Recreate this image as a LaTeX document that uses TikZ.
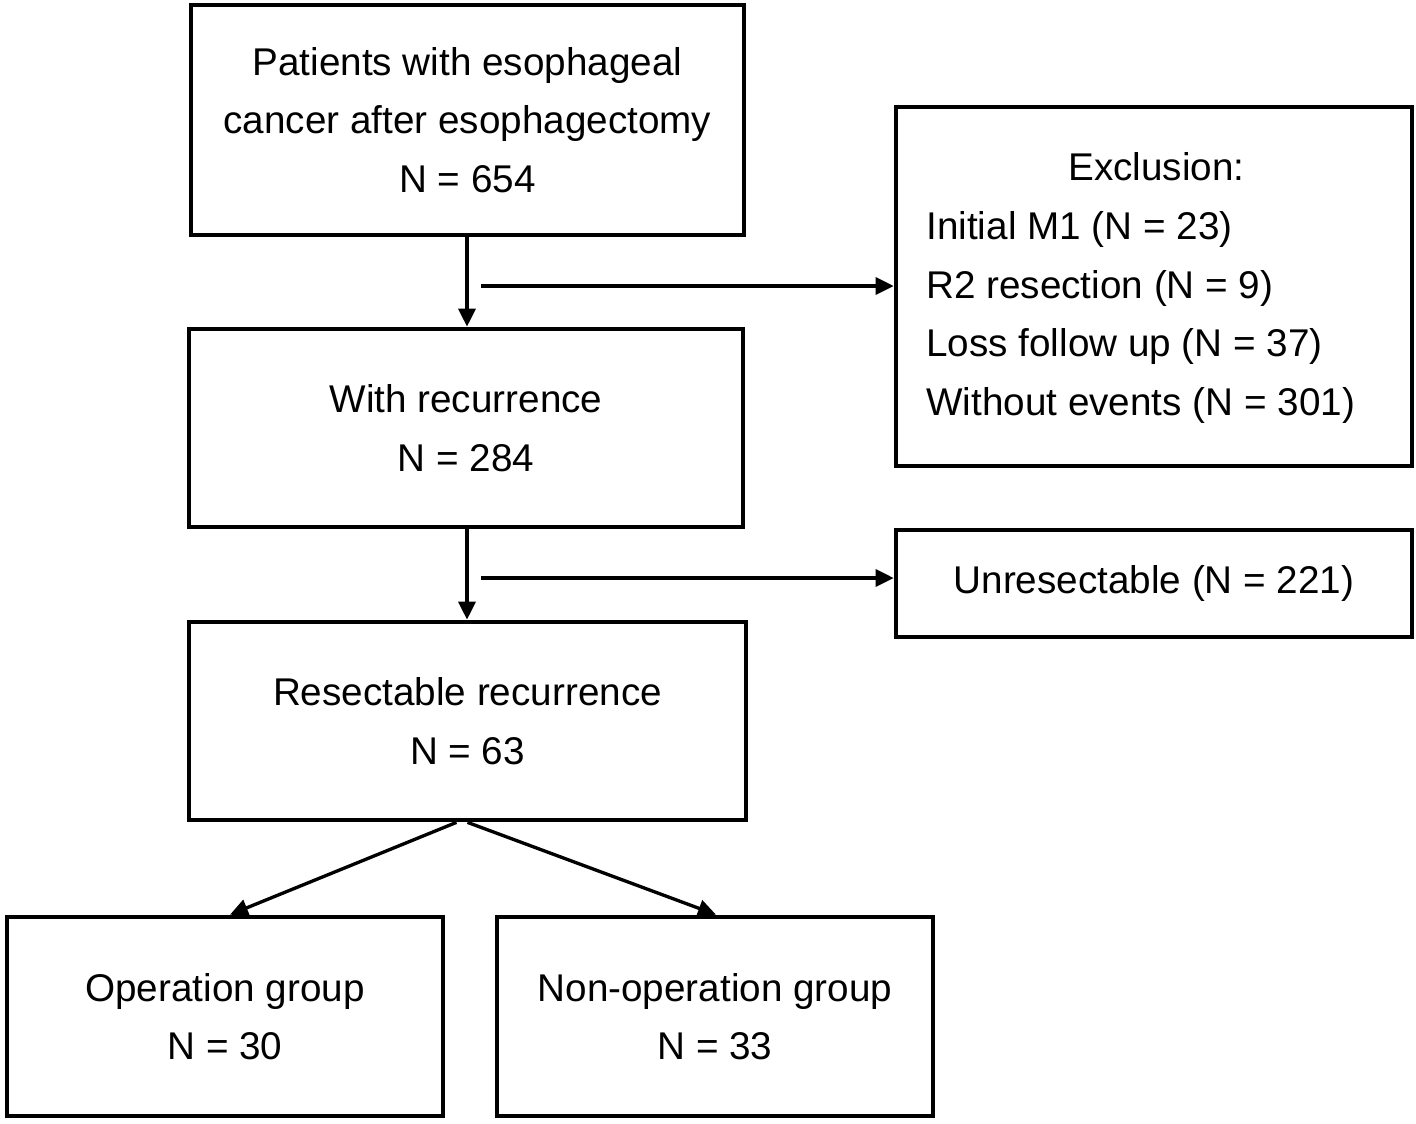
\documentclass[tikz,border=0pt]{standalone}
\usepackage{fontspec}
\setmainfont{Liberation Sans}
\usetikzlibrary{arrows.meta}
\begin{document}
\begin{tikzpicture}[x=0.02cm,y=-0.02cm,
  box/.style={draw=black, line width=2.7pt, align=center, inner sep=0pt,
    font=\fontsize{22pt}{33.3pt}\selectfont},
  txt/.style={align=left, inner sep=0pt, font=\fontsize{22pt}{33.3pt}\selectfont},
  arr/.style={line width=1.9pt, -{Triangle[length=0.36cm,width=0.34cm]}}]
\useasboundingbox (0,0) rectangle (1416,1123);
\node[box, minimum width=11.06cm, minimum height=4.6cm] (b1) at (467.5,120) {Patients with esophageal\\cancer after esophagectomy\\N = 654};
\node[box, minimum width=10.32cm, minimum height=7.18cm] (excl) at (1154,286.5) {};
\node[txt, anchor=west] (excltext) at (926,288) {\hspace*{2.84cm}Exclusion:\\Initial M1 (N = 23)\\R2 resection (N = 9)\\Loss follow up (N = 37)\\Without events (N = 301)};
\node[box, minimum width=11.08cm, minimum height=3.96cm] (b2) at (466,428) {With recurrence\\N = 284};
\node[box, minimum width=10.32cm, minimum height=2.14cm] (unres) at (1154,583.5) {Unresectable (N = 221)};
\node[box, minimum width=11.14cm, minimum height=3.96cm] (b3) at (467.5,721) {Resectable recurrence\\N = 63};
\node[box, minimum width=8.72cm, minimum height=3.98cm] (b4) at (225,1016.5) {Operation group\\N = 30};
\node[box, minimum width=8.72cm, minimum height=3.98cm] (b5) at (715,1016.5) {Non-operation group\\N = 33};
\coordinate (c1) at (481,286);
\coordinate (c2) at (481,578);
\draw[arr] (b1.south -| 467,0) -- (b2.north -| 467,0);
\draw[arr] (c1) -- (excl.west |- c1);
\draw[arr] (b2.south -| 467,0) -- (b3.north -| 467,0);
\draw[arr] (c2) -- (unres.west |- c2);
\draw[arr] ([xshift=-0.22cm]b3.south) -- (b4.north -| 230,0);
\draw[arr] (b3.south) -- (b5.north -| 716,0);
\end{tikzpicture}
\end{document}
